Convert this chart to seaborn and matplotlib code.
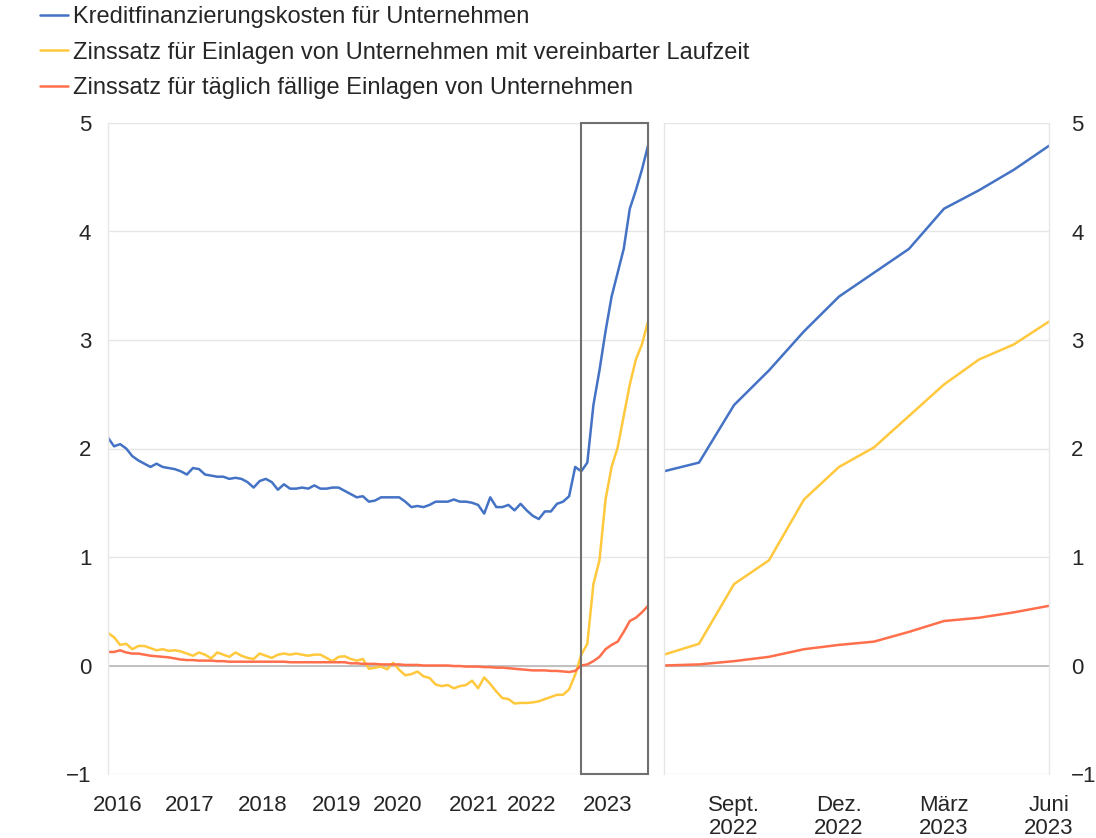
import numpy as np
import pandas as pd
import matplotlib.pyplot as plt
from matplotlib.patches import Rectangle
import seaborn as sns

series_names = ['Kreditfinanzierungskosten für Unternehmen',
                'Zinssatz für Einlagen von Unternehmen mit vereinbarter Laufzeit',
                'Zinssatz für täglich fällige Einlagen von Unternehmen']

# monthly values, Jan 2016 - Jun 2023
kredit = [2.10, 2.02, 2.04, 2.00, 1.93, 1.89, 1.86, 1.83, 1.86, 1.83,
          1.82, 1.81, 1.79, 1.76, 1.82, 1.81, 1.76, 1.75, 1.74, 1.74,
          1.72, 1.73, 1.72, 1.69, 1.64, 1.70, 1.72, 1.69, 1.62, 1.67,
          1.63, 1.63, 1.64, 1.63, 1.66, 1.63, 1.63, 1.64, 1.64, 1.61,
          1.58, 1.55, 1.56, 1.51, 1.52, 1.55, 1.55, 1.55, 1.55, 1.51,
          1.46, 1.47, 1.46, 1.48, 1.51, 1.51, 1.51, 1.53, 1.51, 1.51,
          1.50, 1.48, 1.40, 1.55, 1.46, 1.46, 1.48, 1.43, 1.49, 1.43,
          1.38, 1.35, 1.42, 1.42, 1.49, 1.51, 1.56, 1.83,
          1.79, 1.87, 2.40, 2.72, 3.08, 3.40, 3.62, 3.84, 4.21, 4.38, 4.57, 4.79]

einlagen_lz = [0.30, 0.26, 0.19, 0.20, 0.15, 0.18, 0.18, 0.16, 0.14, 0.15,
               0.135, 0.14, 0.13, 0.11, 0.09, 0.12, 0.10, 0.065, 0.12, 0.10,
               0.08, 0.12, 0.09, 0.07, 0.06, 0.11, 0.09, 0.07, 0.10, 0.11,
               0.10, 0.11, 0.10, 0.09, 0.10, 0.10, 0.07, 0.04, 0.08, 0.085,
               0.06, 0.045, 0.06, -0.03, -0.02, -0.01, -0.035, 0.025, -0.04, -0.09,
               -0.08, -0.055, -0.10, -0.115, -0.175, -0.19, -0.18, -0.21, -0.19, -0.18,
               -0.14, -0.21, -0.11, -0.17, -0.24, -0.30, -0.31, -0.35, -0.345, -0.345,
               -0.34, -0.33, -0.31, -0.29, -0.27, -0.27, -0.22, -0.085,
               0.10, 0.20, 0.75, 0.97, 1.53, 1.83, 2.01, 2.30, 2.59, 2.82, 2.96, 3.17]

taeglich = [0.125, 0.125, 0.14, 0.12, 0.11, 0.11, 0.10, 0.09, 0.085, 0.08,
            0.075, 0.065, 0.055, 0.05, 0.05, 0.045, 0.045, 0.045, 0.04, 0.04,
            0.035, 0.035, 0.035, 0.035, 0.035, 0.035, 0.035, 0.035, 0.035, 0.035,
            0.03, 0.03, 0.03, 0.03, 0.03, 0.03, 0.03, 0.03, 0.03, 0.03,
            0.02, 0.02, 0.015, 0.015, 0.015, 0.01, 0.01, 0.01, 0.01, 0.005,
            0.005, 0.005, 0.0, 0.0, 0.0, 0.0, 0.0, -0.005, -0.005, -0.01,
            -0.01, -0.01, -0.015, -0.015, -0.02, -0.02, -0.025, -0.03, -0.035, -0.04,
            -0.045, -0.045, -0.045, -0.05, -0.05, -0.055, -0.06, -0.05,
            0.00, 0.01, 0.04, 0.08, 0.15, 0.19, 0.22, 0.31, 0.41, 0.44, 0.49, 0.55]

year_labels = ['2016', '2017', '2018', '2019', '2020', '2021', '2022', '2023']
year_pos = [1.6, 13.5, 25.5, 37.7, 47.8, 60.3, 69.8, 82.4]
zoom_labels = ['Sept.\n2022', 'Dez.\n2022', 'März\n2023', 'Juni\n2023']
zoom_ticks = [2, 5, 8, 11]
zoom_start = 78  # Juli 2022

colors = ['#4472C4', '#FFC83D', '#FF6F4B']

sns.set_style('white')
plt.rcParams['font.family'] = ['Liberation Sans', 'DejaVu Sans']

months = np.arange(len(kredit))
df = pd.DataFrame({'monat': np.tile(months, 3),
                   'wert': kredit + einlagen_lz + taeglich,
                   'reihe': np.repeat(series_names, len(months))})
dz = df[df.monat >= zoom_start].copy()
dz['monat'] = dz['monat'] - zoom_start

W, H = 1096, 838
fig = plt.figure(figsize=(W / 100, H / 100), dpi=100)
ax1 = fig.add_axes([108 / W, 1 - 774 / H, 540 / W, 651 / H])
ax2 = fig.add_axes([664 / W, 1 - 774 / H, 385 / W, 651 / H])

for ax, d in [(ax1, df), (ax2, dz)]:
    sns.lineplot(data=d, x='monat', y='wert', hue='reihe', hue_order=series_names,
                 palette=colors, linewidth=1.8, ax=ax, legend=(ax is ax1))
    ax.set_ylim(-1, 5)
    ax.set_yticks(range(-1, 6))
    ax.grid(axis='y', color='#E6E6E6', lw=1)
    ax.axhline(0, color='#BDBDBD', lw=1.3, zorder=1)
    ax.set_xlabel('')
    ax.set_ylabel('')
    for s in ['top', 'bottom']:
        ax.spines[s].set_visible(False)
    for s in ['left', 'right']:
        ax.spines[s].set_color('#E6E6E6')
        ax.spines[s].set_linewidth(1)
    ax.tick_params(length=0, labelsize=16)

ax1.set_xlim(0, months[-1])
ax1.set_xticks(year_pos, year_labels)
ax1.tick_params(axis='y', pad=12)
ax1.tick_params(axis='x', pad=15)

ax2.set_xlim(0, months[-1] - zoom_start)
ax2.set_xticks(zoom_ticks, zoom_labels, linespacing=1.12)
ax2.yaxis.tick_right()
ax2.tick_params(axis='y', pad=16)
ax2.tick_params(axis='x', pad=15)

ax1.add_patch(Rectangle((zoom_start, -1), months[-1] - zoom_start, 6, fill=False,
                        ec='#707070', lw=1.5, zorder=5, clip_on=False))

handles, labels = ax1.get_legend_handles_labels()
ax1.get_legend().remove()
fig.legend(handles, labels, loc='upper left', bbox_to_anchor=(40 / W, 1 - 6 / H),
           frameon=False, fontsize=17, handlelength=1.2, handletextpad=0.2,
           labelspacing=0.58, borderpad=0, borderaxespad=0)

fig.savefig('out.png', dpi=100)
